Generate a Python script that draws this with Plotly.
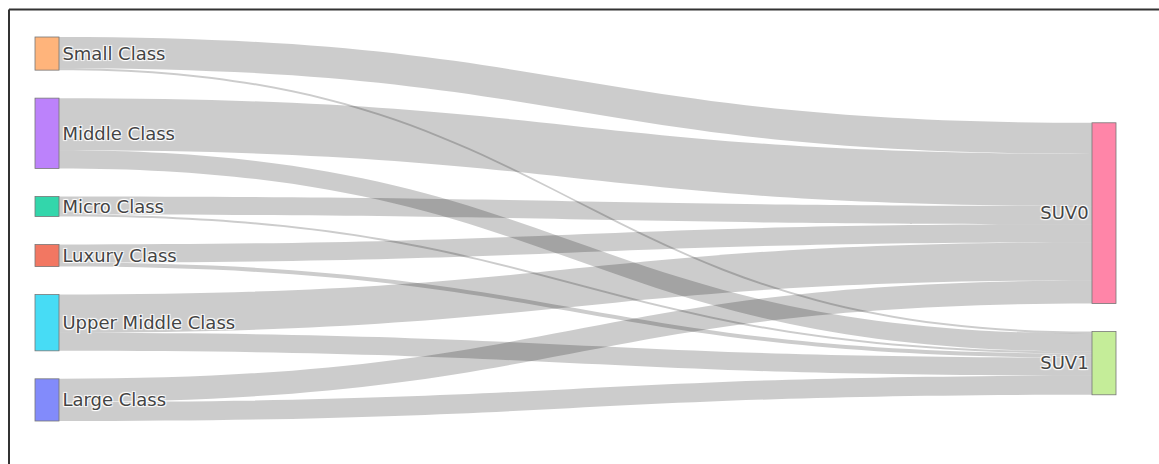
import plotly.graph_objects as go

# Node labels (alphabetical, as in the source data)
labels = ["Large Class", "Luxury Class", "Micro Class", "Middle Class",
          "Small Class", "Upper Middle Class", "SUV0", "SUV1"]

# Links: class -> SUV flag
link_source = [0, 0, 1, 1, 2, 2, 3, 3, 4, 4, 5, 5]
link_target = [6, 7, 6, 7, 6, 7, 6, 7, 6, 7, 6, 7]
link_value = [23, 19, 18, 4, 18, 2, 52, 18, 31, 2, 38, 18]

W, H = 1159, 464
ML, MR, MT, MB = 35, 43, 37, 43
PW, PH = W - ML - MR, H - MT - MB

fig = go.Figure(go.Sankey(
    node=dict(label=labels, pad=28, thickness=24,
              line=dict(color="#777", width=0.8)),
    link=dict(source=link_source, target=link_target, value=link_value),
))

bx = (9 - ML) / PW
by = 1 + (MT - 9.5) / PH
fig.update_layout(
    width=W, height=H,
    margin=dict(l=ML, r=MR, t=MT, b=MB),
    font=dict(family="DejaVu Sans", size=18, color="#444"),
    paper_bgcolor="white",
    shapes=[
        dict(type="line", xref="paper", yref="paper",
             x0=bx, x1=1.2, y0=by, y1=by,
             line=dict(color="#333", width=2)),
        dict(type="line", xref="paper", yref="paper",
             x0=bx, x1=bx, y0=-0.2, y1=by,
             line=dict(color="#333", width=2)),
    ],
)

fig.write_html(
    "out.html",
    config={"displayModeBar": False},
    post_script="document.body.style.margin='0px';document.body.style.overflow='hidden';",
)
